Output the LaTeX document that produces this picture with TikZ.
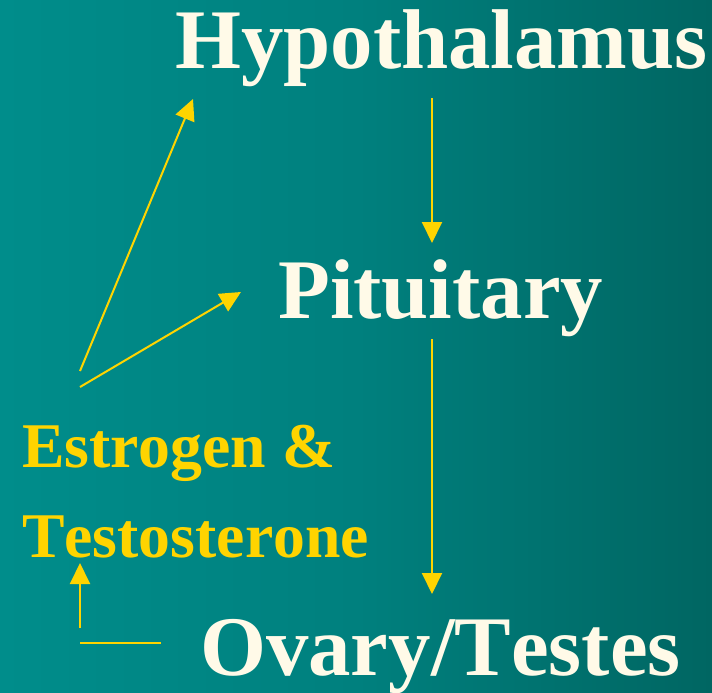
\documentclass[tikz,border=0pt]{standalone}
\usepackage{fontspec}
\setmainfont[Kerning=Off]{Liberation Serif}
\usetikzlibrary{arrows.meta}
\definecolor{bgleft}{RGB}{0,141,139}
\definecolor{bgmid}{RGB}{0,128,126}
\definecolor{bgright}{RGB}{0,102,98}
\definecolor{cream}{RGB}{255,250,232}
\definecolor{gold}{RGB}{255,212,0}
\begin{document}
\begin{tikzpicture}[x=1pt,y=-1pt,
  big/.style={inner sep=0pt,anchor=base west,text=cream,font=\bfseries\fontsize{84.8}{85}\selectfont},
  small/.style={inner sep=0pt,anchor=base west,text=gold,font=\bfseries\fontsize{63.7}{64}\selectfont},
  conn/.style={draw=gold,line width=2pt},
  arr/.style={conn,-{Triangle[length=21pt,width=20pt]}}]
\shade[left color=bgleft,right color=bgright,middle color=bgmid] (0,0) rectangle (712,693);
\useasboundingbox (0,0) rectangle (712,693);
\node[big] (hyp) at (175,69) {Hypothalamus};
\node[big] (pit) at (278,318) {Pituitary};
\node[big] (ova) at (200,675) {Ovary/Testes};
\node[small] (est) at (22,467) {Estrogen \&};
\node[small] (tes) at (22,557) {Testosterone};
\coordinate (a1s) at (80,371);
\coordinate (a1e) at (193,99);
\coordinate (a2s) at (80,387);
\coordinate (a2e) at (241,292);
\coordinate (d1s) at (432,98);
\coordinate (d1e) at (432,243);
\coordinate (d2s) at (432,339);
\coordinate (d2e) at (432,594);
\coordinate (hs) at (161,643);
\coordinate (he) at (80,643);
\coordinate (us) at (80,628);
\coordinate (ue) at (80,563);
\draw[arr] (a1s) -- (a1e);
\draw[arr] (a2s) -- (a2e);
\draw[arr] (d1s) -- (d1e);
\draw[arr] (d2s) -- (d2e);
\draw[conn] (hs) -- (he);
\draw[arr] (us) -- (ue);
\end{tikzpicture}
\end{document}
